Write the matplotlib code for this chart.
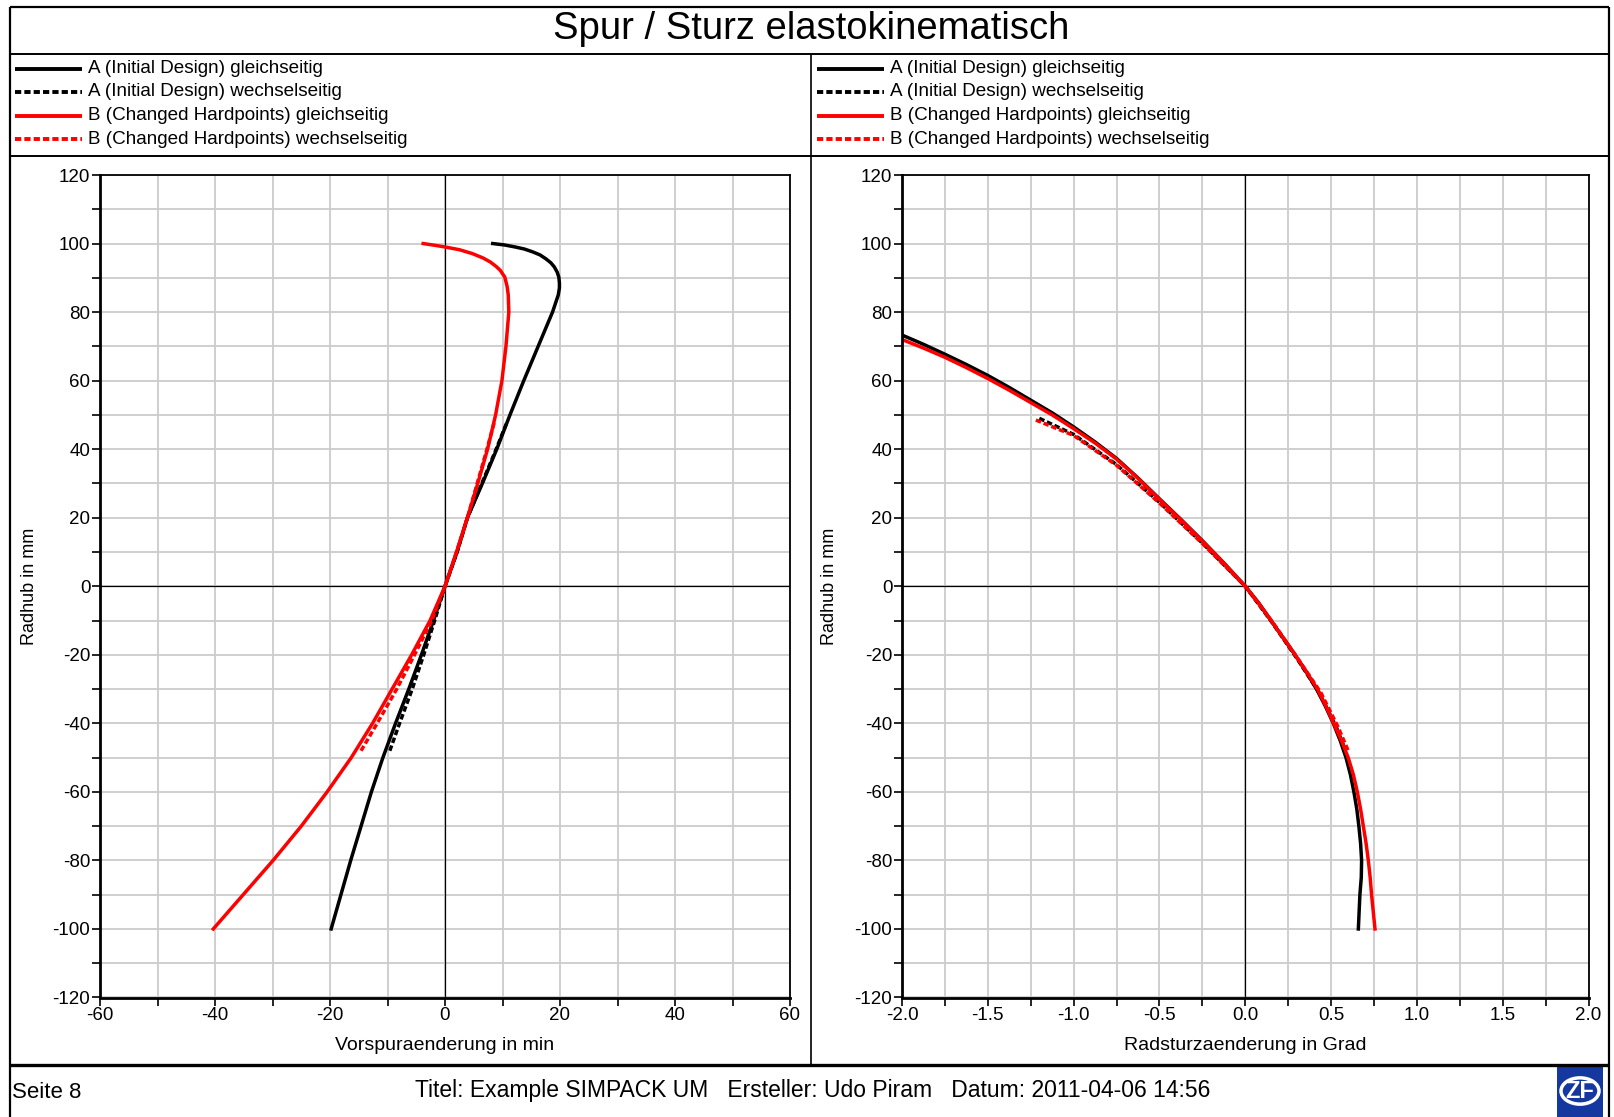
import matplotlib
matplotlib.use("Agg")
import matplotlib.pyplot as plt
from matplotlib.lines import Line2D
from matplotlib.patches import Rectangle, Circle

plt.rcParams['font.family'] = ['Liberation Sans', 'DejaVu Sans']
plt.rcParams['axes.unicode_minus'] = False

W, H = 1614, 1117

# --- data ---
# left panel: Vorspuraenderung (min) vs Radhub (mm)
l_a_gl_y = [-100, -90, -80, -70, -60, -50, -40, -30, -20, -10, 0, 10, 20, 30, 40, 50, 60, 70, 80,
            83.5, 85, 87, 88.5, 90.2, 91.7, 93.2, 94.4, 95.6, 96.7, 97.6, 98.4, 99.0, 99.6, 100]
l_a_gl_x = [-19.8, -18.1, -16.4, -14.6, -12.8, -10.8, -8.6, -6.3, -4.1, -2.0, 0, 2.1, 3.9, 6.5, 9.0, 11.3, 13.7, 16.2, 18.7,
            19.4, 19.7, 19.9, 19.9, 19.8, 19.5, 19.0, 18.4, 17.5, 16.5, 15.2, 13.8, 12.2, 10.3, 8.3]
l_a_ws_y = [-48, -40, -30, -20, -10, 0, 10, 20, 30, 40, 48]
l_a_ws_x = [-9.6, -7.9, -5.7, -3.7, -1.8, 0, 2.1, 3.9, 6.4, 8.9, 10.8]
l_b_gl_y = [-100, -90, -80, -70, -60, -50, -40, -30, -20, -10, 0, 10, 20, 30, 40, 50, 60, 70, 80,
            85, 87.5, 90.2, 92.2, 93.3, 94.6, 95.8, 97.1, 98.2, 99.0, 99.5, 100]
l_b_gl_x = [-40.3, -35.1, -29.9, -25.0, -20.5, -16.3, -12.6, -9.2, -5.8, -2.6, 0, 2.0, 3.9, 5.7, 7.4, 8.8, 9.9, 10.6, 11.1,
            11.0, 10.8, 10.4, 9.6, 8.9, 7.9, 6.6, 4.7, 2.5, 0.0, -1.8, -3.8]
l_b_ws_y = [-48, -40, -30, -20, -10, 0, 10, 20, 30, 40, 48]
l_b_ws_x = [-14.6, -11.8, -8.4, -5.3, -2.3, 0, 2.0, 3.9, 5.6, 7.3, 8.6]

# right panel: Radsturzaenderung (Grad) vs Radhub (mm)
r_a_gl_y = [73.3, 70.6, 67.7, 64.7, 61.5, 58.0, 54.3, 50.6, 46.5, 42.1, 37.3, 31.6, 25.5, 19.5, 13.3, 6.8, 0,
            -5, -10, -15, -20, -25, -30, -35, -40, -45, -50, -55, -60, -65, -70, -75, -80, -85, -90, -100]
r_a_gl_x = [-2.0, -1.875, -1.75, -1.625, -1.5, -1.375, -1.25, -1.125, -1.0, -0.875, -0.75, -0.625, -0.5, -0.375, -0.25, -0.125, 0,
            0.08, 0.15, 0.22, 0.29, 0.355, 0.415, 0.467, 0.513, 0.553, 0.587, 0.613, 0.633, 0.650, 0.662, 0.672, 0.678, 0.676, 0.668, 0.659]
r_a_ws_y = [49, 44.3, 35.5, 24.5, 12.6, 0, -10.5, -21, -31, -41, -48]
r_a_ws_x = [-1.2, -1.0, -0.75, -0.5, -0.25, 0, 0.155, 0.30, 0.43, 0.53, 0.585]
r_b_gl_y = [72.0, 69.5, 66.8, 63.8, 60.6, 57.2, 53.6, 50.0, 46.0, 41.8, 37.1, 31.5, 25.4, 19.4, 13.2, 6.8, 0,
            -5, -10, -15, -20, -25, -30, -35, -40, -45, -50, -55, -60, -65, -70, -75, -80, -85, -90, -95, -100]
r_b_gl_x = [-2.0, -1.875, -1.75, -1.625, -1.5, -1.375, -1.25, -1.125, -1.0, -0.875, -0.75, -0.625, -0.5, -0.375, -0.25, -0.125, 0,
            0.08, 0.15, 0.22, 0.29, 0.357, 0.42, 0.47, 0.515, 0.56, 0.60, 0.63, 0.653, 0.672, 0.688, 0.704, 0.717, 0.728, 0.736, 0.746, 0.756]
r_b_ws_y = [48.5, 44.0, 35.3, 24.3, 12.5, 0, -10.5, -21, -31, -41, -48]
r_b_ws_x = [-1.22, -1.0, -0.75, -0.5, -0.25, 0, 0.16, 0.305, 0.44, 0.54, 0.60]

legend_labels = ["A (Initial Design) gleichseitig",
                 "A (Initial Design) wechselseitig",
                 "B (Changed Hardpoints) gleichseitig",
                 "B (Changed Hardpoints) wechselseitig"]
legend_colors = ["black", "black", "red", "red"]
legend_dashed = [False, True, False, True]

title = "Spur / Sturz elastokinematisch"
footer = "Titel: Example SIMPACK UM   Ersteller: Udo Piram   Datum: 2011-04-06 14:56"

DASH = (0, (1.6, 0.8))

fig = plt.figure(figsize=(W / 100, H / 100), dpi=100)


def fx(px):
    return px / W


def fy(py):
    return 1 - py / H


def line_px(x0, y0, x1, y1, lw=1.5, color="black", ls="-"):
    fig.add_artist(Line2D([fx(x0), fx(x1)], [fy(y0), fy(y1)], transform=fig.transFigure,
                          lw=lw, color=color, ls=ls, solid_capstyle="butt"))


# page frame
line_px(10, 7, 1609, 7, lw=1.6)
line_px(10, 7, 10, 1117, lw=1.6)
line_px(1609, 7, 1609, 1117, lw=1.6)
line_px(10, 54, 1609, 54, lw=1.4)
line_px(10, 156, 1609, 156, lw=1.4)
line_px(811, 54, 811, 1065, lw=1.2)
line_px(10, 1065, 1609, 1065, lw=2.4)

fig.text(fx(811), fy(29), title, ha="center", va="center", fontsize=27.5)

# legends
for x0 in (15, 817):
    for i, lab in enumerate(legend_labels):
        y = 68.5 + i * 23.5
        line_px(x0, y, x0 + 67, y, lw=2.8, color=legend_colors[i],
                ls=DASH if legend_dashed[i] else "-")
        fig.text(fx(x0 + 73), fy(y), lab, ha="left", va="center", fontsize=13.6)


def setup_axes(rect, xlim, xstep, xlabels_every, fmt):
    ax = fig.add_axes(rect)
    ax.set_xlim(*xlim)
    ax.set_ylim(-120, 120)
    n = int(round((xlim[1] - xlim[0]) / xstep))
    xt = [xlim[0] + k * xstep for k in range(n + 1)]
    ax.set_xticks(xt)
    ax.set_xticklabels([fmt(v) if k % xlabels_every == 0 else "" for k, v in enumerate(xt)])
    yt = list(range(-120, 121, 10))
    ax.set_yticks(yt)
    ax.set_yticklabels([str(v) if v % 20 == 0 else "" for v in yt])
    ax.grid(True, color="#cccccc", lw=1.3)
    ax.set_axisbelow(True)
    ax.axhline(0, color="black", lw=0.9, zorder=1.5)
    ax.axvline(0, color="black", lw=0.9, zorder=1.5)
    ax.tick_params(direction="out", length=6, width=1.2, labelsize=13.5, pad=1, colors="black")
    for s in ("left", "bottom"):
        ax.spines[s].set_linewidth(2.0)
    for s in ("top", "right"):
        ax.spines[s].set_linewidth(1.3)
    return ax


ax1 = setup_axes([fx(100), fy(997.5), 690 / W, 822.5 / H], (-60, 60), 10, 2, lambda v: "%d" % v)
ax2 = setup_axes([fx(902), fy(997.5), 686.5 / W, 822.5 / H], (-2.0, 2.0), 0.25, 2, lambda v: "%.1f" % v)

lw = 2.5
ax1.plot(l_a_gl_x, l_a_gl_y, color="black", lw=lw)
ax1.plot(l_a_ws_x, l_a_ws_y, color="black", lw=lw, ls=DASH)
ax1.plot(l_b_gl_x, l_b_gl_y, color="red", lw=lw)
ax1.plot(l_b_ws_x, l_b_ws_y, color="red", lw=lw, ls=DASH)

ax2.plot(r_a_gl_x, r_a_gl_y, color="black", lw=lw)
ax2.plot(r_a_ws_x, r_a_ws_y, color="black", lw=lw, ls=DASH)
ax2.plot(r_b_gl_x, r_b_gl_y, color="red", lw=lw)
ax2.plot(r_b_ws_x, r_b_ws_y, color="red", lw=lw, ls=DASH)

# axis titles
fig.text(fx(29), fy(586), "Radhub in mm", rotation=90, ha="center", va="center", fontsize=13)
fig.text(fx(830), fy(586), "Radhub in mm", rotation=90, ha="center", va="center", fontsize=13)
fig.text(fx(445), fy(1045), "Vorspuraenderung in min", ha="center", va="center", fontsize=14)
fig.text(fx(1245), fy(1045), "Radsturzaenderung in Grad", ha="center", va="center", fontsize=14)

# footer
fig.text(fx(12), fy(1093), "Seite 8", ha="left", va="center", fontsize=16)
fig.text(fx(813), fy(1090), footer, ha="center", va="center", fontsize=16.5)

# ZF logo
fig.add_artist(Rectangle((fx(1557), fy(1117)), 46 / W, 50 / H, transform=fig.transFigure,
                         facecolor="#1537a0", edgecolor="none"))
fig.add_artist(Circle((fx(1580), fy(1091)), 19 / W, transform=fig.transFigure,
                      facecolor="none", edgecolor="white", lw=2.5))
fig.text(fx(1580), fy(1091), "ZF", ha="center", va="center", fontsize=17,
         fontweight="bold", color="white")

fig.savefig("out.png", dpi=100)
